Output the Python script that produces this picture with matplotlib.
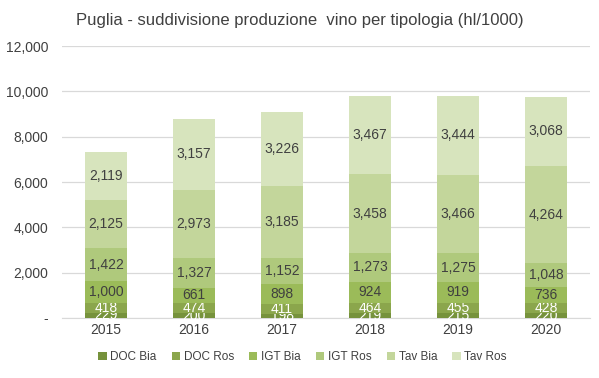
import matplotlib
matplotlib.use("Agg")
import matplotlib.pyplot as plt
from matplotlib.ticker import FuncFormatter

plt.rcParams['font.family'] = ['Liberation Sans Narrow', 'Liberation Sans', 'DejaVu Sans']

years = ["2015", "2016", "2017", "2018", "2019", "2020"]
series_names = ["DOC Bia", "DOC Ros", "IGT Bia", "IGT Ros", "Tav Bia", "Tav Ros"]
doc_bia = [229, 200, 198, 219, 215, 220]
doc_ros = [418, 474, 411, 464, 455, 428]
igt_bia = [1000, 661, 898, 924, 919, 736]
igt_ros = [1422, 1327, 1152, 1273, 1275, 1048]
tav_bia = [2125, 2973, 3185, 3458, 3466, 4264]
tav_ros = [2119, 3157, 3226, 3467, 3444, 3068]

colors = ["#76923C", "#8BA64C", "#9BBB59", "#AFC97C", "#C3D69B", "#D7E4BD"]
label_colors = ["#FFFFFF", "#FFFFFF", "#404040", "#404040", "#404040", "#404040"]

fig = plt.figure(figsize=(5.99, 3.78), dpi=100)
ax = fig.add_axes([62 / 599, 1 - 318 / 378, 528 / 599, 272 / 378])

x = range(len(years))
bottom = [0] * len(years)
for name, vals, c, lc in zip(series_names,
                             [doc_bia, doc_ros, igt_bia, igt_ros, tav_bia, tav_ros],
                             colors, label_colors):
    bars = ax.bar(x, vals, width=0.48, bottom=bottom, color=c, label=name, zorder=3)
    ax.bar_label(bars, labels=[f"{v:,}" for v in vals], label_type='center',
                 color=lc, fontsize=10)
    bottom = [b + v for b, v in zip(bottom, vals)]

ax.set_xlim(-0.5, len(years) - 0.5)
ax.set_ylim(0, 12000)
ax.set_yticks(range(0, 12001, 2000))
ax.yaxis.set_major_formatter(FuncFormatter(lambda v, p: "-" if v == 0 else f"{int(v):,}"))
ax.set_xticks(list(x))
ax.set_xticklabels(years)
ax.tick_params(length=0, labelsize=10, colors="#404040")
ax.tick_params(axis='y', pad=10)
ax.grid(axis='y', color="#D9D9D9", linewidth=0.9, zorder=0)
for s in ["top", "right", "left"]:
    ax.spines[s].set_visible(False)
ax.spines["bottom"].set_color("#D9D9D9")

fig.suptitle("Puglia - suddivisione produzione  vino per tipologia (hl/1000)",
             y=0.965, fontsize=12, color="#404040")
fig.legend(loc='center', bbox_to_anchor=(0.505, 0.055), ncol=6, frameon=False,
           fontsize=8.5, handlelength=0.7, handleheight=0.7, columnspacing=1.3,
           handletextpad=0.3, labelcolor="#404040")

fig.savefig("out.png", dpi=100)
